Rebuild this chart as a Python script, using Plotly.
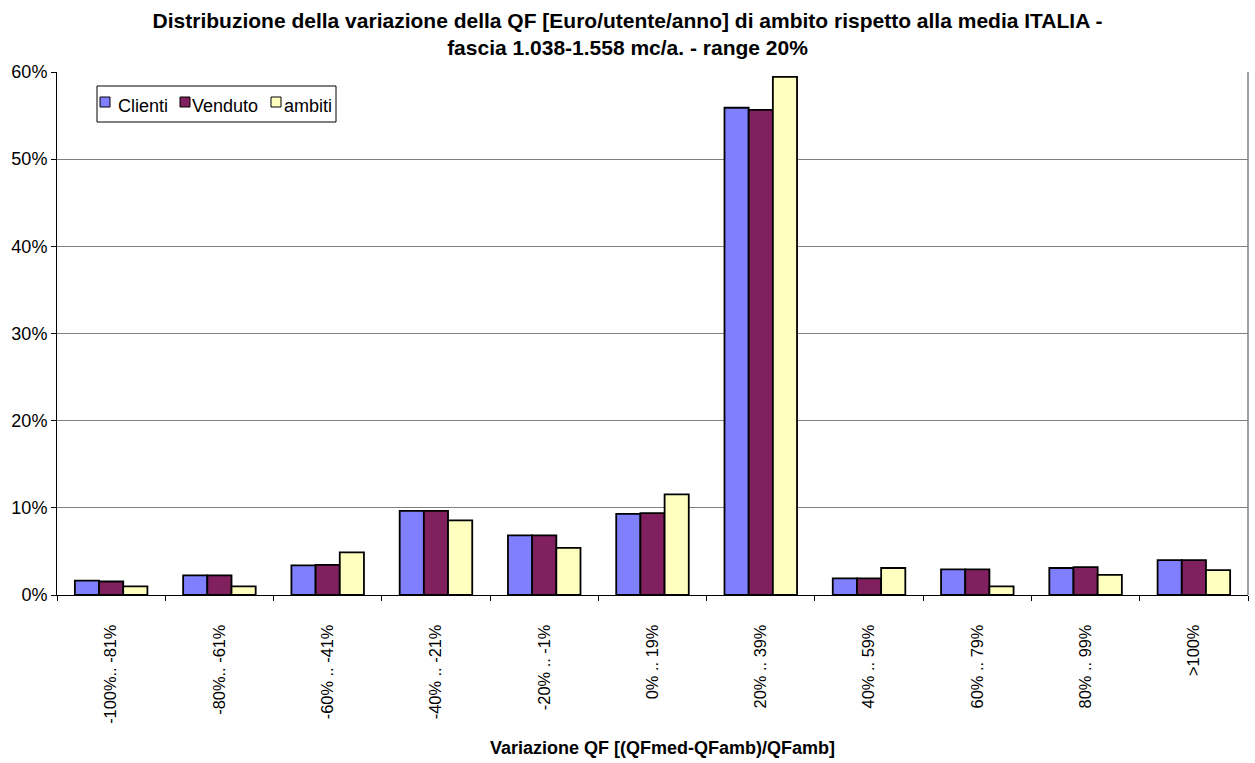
import plotly.graph_objects as go

categories = ["-100%.. -81%", "-80%.. -61%", "-60% .. -41%", "-40% .. -21%",
              "-20% .. -1%", "0% .. 19%", "20% .. 39%", "40% .. 59%",
              "60% .. 79%", "80% .. 99%", ">100%"]
clienti = [1.65, 2.25, 3.4, 9.65, 6.85, 9.3, 55.9, 1.9, 2.95, 3.1, 4.0]
venduto = [1.55, 2.25, 3.45, 9.65, 6.85, 9.4, 55.65, 1.9, 2.95, 3.2, 4.0]
ambiti = [1.0, 1.0, 4.9, 8.55, 5.4, 11.55, 59.45, 3.1, 1.0, 2.3, 2.85]

series_names = ["Clienti", "Venduto", "ambiti"]
series_values = [clienti, venduto, ambiti]
series_colors = ["#8080FF", "#80205F", "#FFFFC0"]

FONT = "Liberation Sans, Arial, sans-serif"
W, H = 1255, 763
ML, MR, MT, MB = 57, 7, 72, 168
PW, PH = W - ML - MR, H - MT - MB


def px_x(px):
    """Pixel column -> paper x."""
    return (px - ML) / PW


def px_y(py):
    """Pixel row -> paper y."""
    return (H - MB - py) / PH


fig = go.Figure()
for name, vals, col in zip(series_names, series_values, series_colors):
    fig.add_trace(go.Bar(
        x=categories, y=[v / 100 for v in vals], name=name, showlegend=False,
        marker=dict(color=col, line=dict(color="#000000", width=1.8)),
    ))

fig.update_layout(
    width=W, height=H,
    margin=dict(l=ML, r=MR, t=MT, b=MB),
    paper_bgcolor="white", plot_bgcolor="white",
    barmode="group", bargap=0.33, bargroupgap=0,
    font=dict(family=FONT, size=16, color="#000000"),
    title=dict(
        text="<b>Distribuzione della variazione della QF [Euro/utente/anno] di ambito rispetto alla media ITALIA -<br>fascia 1.038-1.558 mc/a. - range 20%</b>",
        x=0.5, xanchor="center", xref="container",
        y=1 - 28 / H, yanchor="middle",
        font=dict(family=FONT, size=21),
    ),
    xaxis=dict(
        showline=True, linecolor="#000000", linewidth=1,
        ticks="outside", ticklen=5, tickcolor="#000000",
        tickson="boundaries", tickangle=-90, ticklabelstandoff=22,
        tickfont=dict(family=FONT, size=16.4),
        showgrid=False,
    ),
    yaxis=dict(
        range=[0, 0.6], tickvals=[0, 0.1, 0.2, 0.3, 0.4, 0.5, 0.6],
        tickformat=".0%", showgrid=True, gridcolor="#808080", gridwidth=1,
        showline=True, linecolor="#000000", linewidth=1,
        ticks="outside", ticklen=5, tickcolor="#000000",
        tickfont=dict(family=FONT, size=18), zeroline=False,
    ),
)

# x-axis title
fig.add_annotation(
    text="<b>Variazione QF [(QFmed-QFamb)/QFamb]</b>",
    xref="paper", yref="paper", x=px_x(662), y=px_y(748),
    xanchor="center", yanchor="middle", showarrow=False,
    font=dict(family=FONT, size=18),
)

# right edge of the plot area
fig.add_shape(type="line", xref="paper", yref="paper", x0=1, x1=1, y0=0, y1=1,
              line=dict(color="#808080", width=1.5))

# legend box with compact swatches
fig.add_shape(type="rect", xref="paper", yref="paper",
              x0=px_x(97), x1=px_x(336), y0=px_y(122), y1=px_y(86),
              line=dict(color="#000000", width=1), fillcolor="white", layer="above")
swatch_x = [100, 180, 271]
label_x = [117, 191, 283]
for name, col, sx, lx in zip(series_names, series_colors, swatch_x, label_x):
    fig.add_shape(type="rect", xref="paper", yref="paper",
                  x0=px_x(sx), x1=px_x(sx + 10), y0=px_y(107), y1=px_y(97),
                  line=dict(color="#000000", width=1), fillcolor=col, layer="above")
    fig.add_annotation(text=name, xref="paper", yref="paper",
                       x=px_x(lx), y=px_y(106), xanchor="left", yanchor="middle",
                       showarrow=False, borderpad=0,
                       font=dict(family=FONT, size=18))

fig.write_html("out.html")
